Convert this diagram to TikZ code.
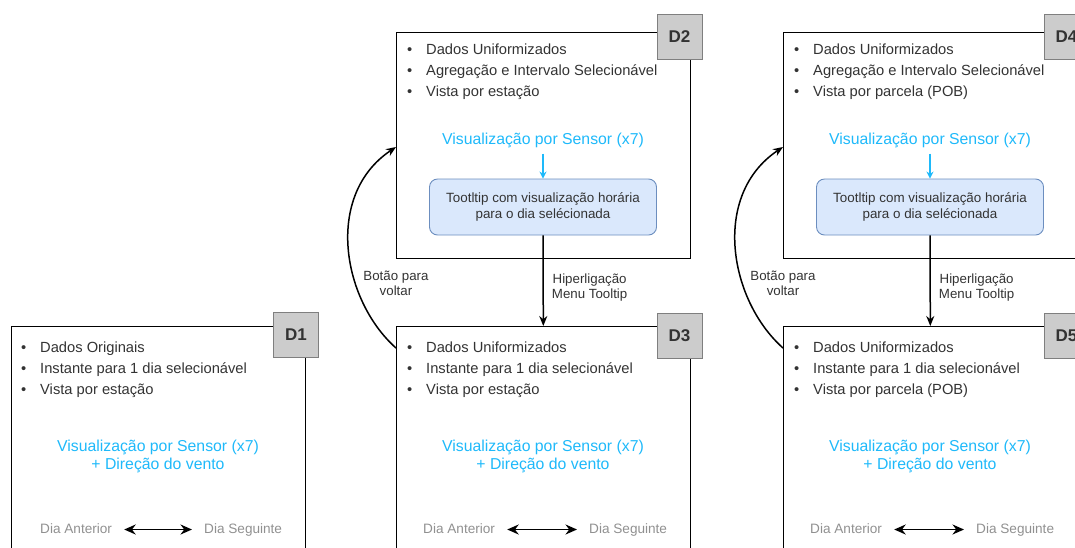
\documentclass[tikz,border=0pt]{standalone}
\usepackage{fontspec}
\setmainfont{Liberation Sans}
\usetikzlibrary{positioning,arrows.meta}
\definecolor{vistablue}{HTML}{1EB9FA}
\definecolor{vistafg}{HTML}{333333}
\definecolor{vistagray}{HTML}{909090}
\definecolor{tipfill}{HTML}{DAE8FC}
\definecolor{tipdraw}{HTML}{6C8EBF}
\definecolor{tagfill}{HTML}{CCCCCC}
\definecolor{tagdraw}{HTML}{7F7F7F}

\begin{document}
\begin{tikzpicture}[x=1pt,y=-1pt,>={Stealth[length=10pt,width=8pt]}]
  \tikzstyle{screen}=[draw=black, line width=1.2pt, anchor=north west, inner sep=0pt, minimum width=294pt]
  \tikzstyle{tag}=[draw=tagdraw, fill=tagfill, line width=1pt, minimum width=45pt, minimum height=45pt, inner sep=0pt, text=vistafg, font=\fontsize{17}{20}\selectfont\bfseries]
  \tikzstyle{item}=[anchor=base west, inner sep=0pt, text=vistafg, font=\fontsize{14.7}{18}\selectfont]
  \tikzstyle{sensor}=[align=center, inner sep=0pt, text=vistablue, font=\fontsize{15.8}{18.5}\selectfont]
  \tikzstyle{tip}=[draw=tipdraw, fill=tipfill, rounded corners=8pt, line width=0.9pt, minimum width=227pt, minimum height=56pt, align=center, text=vistafg, font=\fontsize{13.4}{16.5}\selectfont]
  \tikzstyle{day}=[anchor=base west, inner xsep=12pt, inner ysep=0pt, text height=10pt, text depth=3pt, text=vistagray, font=\fontsize{13.6}{16}\selectfont]
  \tikzstyle{linklabel}=[align=center, inner sep=0pt, text=vistafg, font=\fontsize{13.3}{15}\selectfont]
  \tikzstyle{flow}=[->, line width=1.5pt]
  \tikzstyle{dayflow}=[<->, line width=1.7pt, >={Stealth[length=11.5pt,width=10pt]}]
  \tikzstyle{tipflow}=[->, draw=vistablue, line width=1.4pt, >={Stealth[length=7pt,width=7pt]}, shorten <=6pt]

  \path[use as bounding box] (0,0) rectangle (1075,547);
  \clip (0,0) rectangle (1075,547);

  % D1: original data, one instant per day
  \node[screen, minimum height=250pt] (d1) at (11,326) {};
  \node[tag] (d1tag) at (296,335) {D1};
  \foreach \txt [count=\n] in {Dados Originais, Instante para 1 dia selecionável, Vista por estação}
    \node[item] (d1i\n) at (21,331+21*\n) {\makebox[19pt][l]{\textbullet}\txt};
  \node[sensor] (d1sensor) at (158,456.5) {Visualização por Sensor (x7)\\+ Direção do vento};
  \node[day] (d1prev) at (28,533) {Dia Anterior};
  \node[day] (d1next) at (192,533) {Dia Seguinte};
  \draw[dayflow] (d1prev) -- (d1next);

  % D2/D3 per station, D4/D5 per parcel: same layout, shifted right
  \foreach \dx/\ta/\tb/\view in {0/2/3/{Vista por estação}, 387/4/5/{Vista por parcela (POB)}} {
    \begin{scope}[shift={(\dx,0)}]
      \node[screen, minimum height=226pt] (d\ta) at (396,32) {};
      \node[tag] (d\ta tag) at (679.5,37) {D\ta};
      \foreach \txt [count=\n] in {Dados Uniformizados, Agregação e Intervalo Selecionável, \view}
        \node[item] (d\ta i\n) at (407,33+21.3*\n) {\makebox[19pt][l]{\textbullet}\txt};
      \node[sensor] (d\ta sensor) at (543,140) {Visualização por Sensor (x7)};
      \node[tip] (d\ta tip) at (543,207) {Tootltip com visualização horária\\para o dia selécionada};
      \draw[tipflow] (d\ta sensor) -- (d\ta tip);

      \node[screen, minimum height=250pt] (d\tb) at (396,326) {};
      \node[tag] (d\tb tag) at (679.5,335.5) {D\tb};
      \foreach \txt [count=\n] in {Dados Uniformizados, Instante para 1 dia selecionável, \view}
        \node[item] (d\tb i\n) at (407,331+21*\n) {\makebox[19pt][l]{\textbullet}\txt};
      \node[sensor] (d\tb sensor) at (543,456.5) {Visualização por Sensor (x7)\\+ Direção do vento};
      \node[day] (d\tb prev) at (411,533) {Dia Anterior};
      \node[day] (d\tb next) at (577,533) {Dia Seguinte};
      \draw[dayflow] (d\tb prev) -- (d\tb next);

      \draw[flow] (d\ta tip) -- node[linklabel, right=8pt, yshift=-6.5pt] (d\ta link) {Hiperligação\\Menu Tooltip} (d\tb);
      \draw[flow] ([yshift=-22pt]d\tb.north west) .. controls (342,300) and (324,195) .. ([yshift=-115pt]d\ta.north west);
      \node[linklabel] (d\tb back) at (396,283.5) {Botão para\\voltar};
    \end{scope}
  }
\end{tikzpicture}
\end{document}
